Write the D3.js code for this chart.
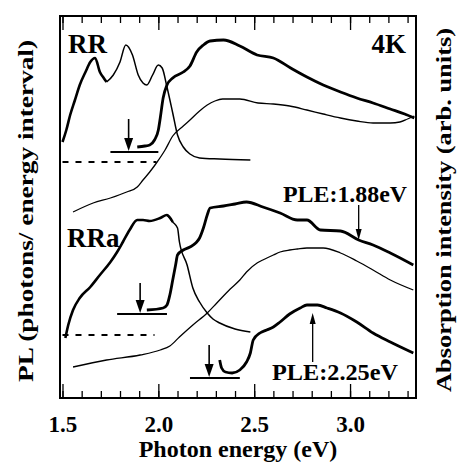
<!DOCTYPE html>
<html>
<head>
<meta charset="utf-8">
<script src="https://cdn.jsdelivr.net/npm/d3@7"></script>
<style>
    body { margin: 0; background: #fff; }
    text { font-family: "Liberation Serif", "Times New Roman", serif; font-weight: bold; fill: #000; }
</style>
</head>
<body>
<div id="root"></div>
<script>
// data: [photon energy (eV), intensity (arb. units)]
var rrPL = [[1.50, 25.6], [1.52, 26.8], [1.54, 28.3], [1.565, 29.8], [1.59, 31.3], [1.62, 32.6], [1.645, 33.6],
    [1.67, 34.0], [1.695, 32.6], [1.715, 32.0], [1.73, 31.6], [1.765, 32.3], [1.80, 33.6], [1.83, 35.3],
    [1.865, 34.3], [1.895, 32.3], [1.92, 31.5], [1.94, 31.3], [1.97, 32.3], [2.00, 33.3], [2.02, 33.0],
    [2.045, 31.1], [2.075, 28.5], [2.10, 26.3], [2.13, 25.1], [2.165, 24.4], [2.215, 24.0], [2.32, 23.9], [2.48, 23.8]];

var rrPLE = [[1.89, 25.1], [1.93, 25.2], [1.955, 25.3], [1.98, 25.8], [2.00, 26.8], [2.01, 28.0], [2.025, 30.0],
    [2.045, 31.3], [2.075, 32.0], [2.13, 32.6], [2.165, 33.2], [2.20, 34.6], [2.235, 35.3], [2.27, 35.7],
    [2.34, 35.8], [2.425, 35.2], [2.515, 34.3], [2.60, 34.0], [2.69, 33.0], [2.775, 32.1], [2.86, 31.3],
    [2.95, 30.6], [3.035, 30.0], [3.12, 29.5], [3.21, 28.9], [3.285, 28.4], [3.335, 28.0]];

var rrAbs = [[1.555, 18.6], [1.66, 19.5], [1.75, 20.0], [1.835, 20.6], [1.89, 21.1], [1.92, 21.8], [1.955, 22.6],
    [1.99, 23.5], [2.035, 24.8], [2.075, 26.2], [2.13, 27.2], [2.165, 27.8], [2.215, 28.7], [2.255, 29.3],
    [2.295, 29.7], [2.335, 29.9], [2.425, 29.9], [2.52, 29.5], [2.60, 29.4], [2.685, 29.2], [2.775, 28.8],
    [2.86, 28.4], [2.95, 28.0], [3.035, 27.7], [3.12, 27.5], [3.21, 27.5], [3.26, 27.6], [3.30, 27.9], [3.335, 28.2]];

var rraPL = [[1.515, 6.0], [1.53, 7.3], [1.555, 8.8], [1.59, 10.0], [1.645, 11.1], [1.695, 12.3], [1.75, 13.6],
    [1.785, 14.6], [1.815, 15.6], [1.85, 16.8], [1.89, 17.8], [1.92, 17.8], [1.955, 17.7], [2.01, 18.0],
    [2.045, 18.3], [2.075, 17.6], [2.10, 17.0], [2.11, 15.6], [2.15, 13.3], [2.18, 11.0], [2.215, 9.6],
    [2.255, 8.5], [2.285, 7.9], [2.32, 7.5], [2.40, 6.9], [2.48, 6.6]];

var rraPLE188 = [[1.94, 8.8], [2.025, 9.0], [2.045, 9.3], [2.06, 10.3], [2.075, 11.8], [2.09, 13.3], [2.10, 14.3],
    [2.13, 14.8], [2.165, 15.1], [2.195, 15.5], [2.215, 16.0], [2.235, 17.0], [2.255, 18.3], [2.27, 19.0],
    [2.34, 19.2], [2.40, 19.4], [2.46, 19.6], [2.545, 19.1], [2.635, 18.5], [2.725, 17.8], [2.775, 17.8],
    [2.845, 16.8], [2.95, 16.7], [3.045, 15.8], [3.12, 15.3], [3.21, 14.5], [3.33, 13.3]];

var rraAbs = [[1.555, 3.1], [1.73, 3.8], [1.905, 4.3], [2.01, 4.8], [2.06, 5.2], [2.11, 6.1], [2.18, 7.3],
    [2.255, 8.5], [2.305, 9.5], [2.375, 10.9], [2.425, 11.8], [2.46, 12.6], [2.515, 13.5], [2.545, 13.8],
    [2.60, 14.3], [2.635, 14.6], [2.685, 14.8], [2.725, 14.9], [2.775, 15.0], [2.86, 15.0], [2.95, 14.5],
    [3.035, 13.7], [3.12, 12.8], [3.21, 11.8], [3.33, 10.8]];

var rraPLE225 = [[2.32, 3.8], [2.33, 3.0], [2.35, 2.6], [2.385, 2.5], [2.425, 2.8], [2.46, 3.6], [2.48, 4.5],
    [2.495, 5.8], [2.53, 6.5], [2.565, 6.8], [2.60, 7.1], [2.635, 7.6], [2.685, 8.4], [2.74, 9.0], [2.775, 9.3],
    [2.83, 9.3], [2.88, 9.0], [2.95, 8.5], [3.035, 7.6], [3.12, 6.5], [3.21, 5.6], [3.33, 4.5]];

// zero levels (dashed): [from eV, to eV, level]
var baselines = [[1.50, 1.99, 23.6], [1.50, 1.98, 6.3]];
// excitation markers: [eV, arrow top, arrow tip, bar from, bar to]
var markers = [[1.845, 27.9, 24.7, 1.75, 2.00], [1.905, 11.5, 8.5, 1.785, 2.045], [2.265, 5.3, 2.1, 2.165, 2.425]];
// label arrows: [eV, from, to]
var pointers = [[3.045, 19.3, 15.8], [2.805, 3.6, 8.5]];

var majorTicks = [1.5, 2.0, 2.5, 3.0];
var minorTicks = d3.range(15, 34).map((d) => d / 10);

var margin = { top: 16, right: 46, bottom: 64, left: 60 },
    width = 462 - margin.left - margin.right,
    height = 462 - margin.top - margin.bottom;

var svg = d3
    .select("#root")
    .append("svg")
    .attr("width", 462)
    .attr("height", 462);

var g = svg.append("g").attr("transform", "translate(" + margin.left + "," + margin.top + ")");

var x = d3.scaleLinear().domain([1.487, 3.344]).range([0, width]);
var y = d3.scaleLinear().domain([0, 38.2]).range([height, 0]);

// ticks, pointing inward
g.append("g")
    .attr("transform", "translate(0," + height + ")")
    .call(d3.axisBottom(x).tickValues(minorTicks).tickSize(-7).tickFormat(""));
g.append("g")
    .attr("transform", "translate(0," + height + ")")
    .call(d3.axisBottom(x).tickValues(majorTicks).tickSize(-14).tickPadding(17.5).tickFormat(d3.format(".1f")));
g.append("g").call(d3.axisTop(x).tickValues(minorTicks).tickSize(-7).tickFormat(""));
g.append("g").call(d3.axisTop(x).tickValues(majorTicks).tickSize(-14).tickFormat(""));
g.selectAll(".domain").remove();
g.selectAll(".tick line").attr("stroke", "#000").attr("stroke-width", 1.3);
g.selectAll(".tick text").style("font-size", "23px").style("font-family", "Liberation Serif").attr("fill", "#000");

g.append("rect")
    .attr("width", width)
    .attr("height", height)
    .attr("fill", "none")
    .attr("stroke", "#000")
    .attr("stroke-width", 2);

var line = d3.line()
    .x((d) => x(d[0]))
    .y((d) => y(d[1]))
    .curve(d3.curveMonotoneX);

function curve(data, w) {
    g.append("path")
        .datum(data)
        .attr("d", line)
        .attr("fill", "none")
        .attr("stroke", "#000")
        .attr("stroke-width", w)
        .attr("stroke-linejoin", "round");
}

// thin: absorption and smooth parts of PL
curve(rrAbs, 1.3);
curve(rraAbs, 1.3);
curve(rrPL.filter((d) => d[0] >= 1.72), 1.5);
curve(rraPL.filter((d) => d[0] >= 2.04), 1.5);
// thick: noisy spectra
curve(rrPL.filter((d) => d[0] <= 1.73), 2.6);
curve(rraPL.filter((d) => d[0] <= 2.075), 2.6);
curve(rrPLE, 2.8);
curve(rraPLE188, 2.8);
curve(rraPLE225, 2.8);

g.selectAll(".base")
    .data(baselines)
    .enter()
    .append("line")
    .attr("x1", (d) => x(d[0]))
    .attr("x2", (d) => x(d[1]))
    .attr("y1", (d) => y(d[2]))
    .attr("y2", (d) => y(d[2]))
    .attr("stroke", "#000")
    .attr("stroke-width", 2)
    .attr("stroke-dasharray", "6,7");

function arrow(xv, from, to, head, half, w) {
    var dir = y(to) > y(from) ? 1 : -1;
    var tipY = y(to);
    g.append("line")
        .attr("x1", x(xv)).attr("x2", x(xv))
        .attr("y1", y(from)).attr("y2", tipY - dir * head)
        .attr("stroke", "#000")
        .attr("stroke-width", w);
    g.append("path")
        .attr("d", "M" + (x(xv) - half) + "," + (tipY - dir * head) +
            "L" + (x(xv) + half) + "," + (tipY - dir * head) +
            "L" + x(xv) + "," + tipY + "Z")
        .attr("fill", "#000");
}

markers.forEach((m) => {
    arrow(m[0], m[1], m[2], 13, 4.5, 1.6);
    g.append("line")
        .attr("x1", x(m[3])).attr("x2", x(m[4]))
        .attr("y1", y(m[2]) + 1).attr("y2", y(m[2]) + 1)
        .attr("stroke", "#000")
        .attr("stroke-width", 2);
});
pointers.forEach((p) => arrow(p[0], p[1], p[2], 11, 3, 1.3));

// labels
svg.append("text").attr("x", 68).attr("y", 53).style("font-size", "27px").text("RR");
svg.append("text").attr("x", 406).attr("y", 53).attr("text-anchor", "end").style("font-size", "27px").text("4K");
svg.append("text").attr("x", 67).attr("y", 247).style("font-size", "27px").text("RRa");
svg.append("text").attr("x", 283).attr("y", 202).style("font-size", "24px")
    .attr("textLength", 124).attr("lengthAdjust", "spacingAndGlyphs").text("PLE:1.88eV");
svg.append("text").attr("x", 272).attr("y", 380).style("font-size", "24px")
    .attr("textLength", 126).attr("lengthAdjust", "spacingAndGlyphs").text("PLE:2.25eV");

svg.append("text")
    .attr("x", 238).attr("y", 457)
    .attr("text-anchor", "middle")
    .style("font-size", "24px")
    .text("Photon energy (eV)");

svg.append("text")
    .attr("transform", "translate(33,211) rotate(-90)")
    .attr("text-anchor", "middle")
    .style("font-size", "22px")
    .attr("textLength", 342).attr("lengthAdjust", "spacingAndGlyphs")
    .text("PL (photons/ energy interval)");

svg.append("text")
    .attr("transform", "translate(451,210) rotate(-90)")
    .attr("text-anchor", "middle")
    .style("font-size", "22px")
    .attr("textLength", 364).attr("lengthAdjust", "spacingAndGlyphs")
    .text("Absorption intensity (arb. units)");
</script>
</body>
</html>
